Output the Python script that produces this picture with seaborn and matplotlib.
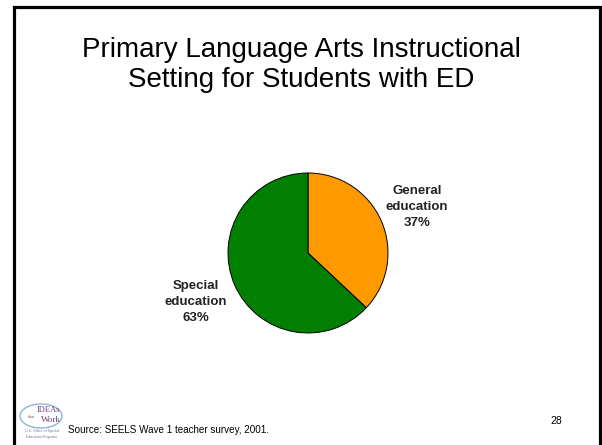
import matplotlib
matplotlib.use("Agg")
import matplotlib.pyplot as plt
from matplotlib.patches import Rectangle, Ellipse
import seaborn as sns

# Instructional setting shares (percent)
settings = ["General\neducation", "Special\neducation"]
shares = [37, 63]
colors = ["#FF9900", "#007F00"]

title = "Primary Language Arts Instructional\nSetting for Students with ED"
source = "Source: SEELS Wave 1 teacher survey, 2001."
page_number = "28"

sns.set_theme(style="white")
plt.rcParams["font.family"] = ["Liberation Sans", "DejaVu Sans"]

W, H = 602, 445
fig = plt.figure(figsize=(W / 100, H / 100), dpi=100)
fig.patch.set_facecolor("white")

# slide frame
fig.add_artist(Rectangle((13.5 / W, -0.05), (600 - 13.5) / W, 1.05 - 6.5 / H,
                         transform=fig.transFigure, fill=False,
                         edgecolor="black", linewidth=2.3))

fig.text(0.5, 1 - 65 / H, title, ha="center", va="center",
         fontsize=20, linespacing=1.18, color="black")

# pie axes: centre (308, 253) px, radius 80 px
cx, cy, r = 308, 253, 80
ax = fig.add_axes([(cx - r) / W, (H - cy - r) / H, 2 * r / W, 2 * r / H])
wedges, _ = ax.pie(shares, colors=colors, startangle=90, counterclock=False,
                   radius=1.0, wedgeprops=dict(edgecolor="black", linewidth=0.7))
ax.set_xlim(-1, 1)
ax.set_ylim(-1, 1)
ax.set_aspect("equal")
ax.axis("off")

label_pos = [(1.36, 0.57), (-1.40, -0.61)]
for name, val, (lx, ly) in zip(settings, shares, label_pos):
    ax.text(lx, ly, f"{name}\n{val}%", ha="center", va="center",
            fontsize=9.5, fontweight="bold", linespacing=1.45,
            color="#222222", clip_on=False)

# footer
fig.text(68 / W, 1 - 430 / H, source, ha="left", va="center",
         fontsize=7.1, color="black")
fig.text(556 / W, 1 - 421 / H, page_number, ha="center", va="center",
         fontsize=7.5, color="black")

# small programme logo
fig.add_artist(Ellipse((41 / W, 1 - 416 / H), 42 / W, 24 / H,
                       transform=fig.transFigure, fill=False,
                       edgecolor="#8FB3D9", linewidth=1.0))
fig.text(48 / W, 1 - 410 / H, "IDEAs", ha="center", va="center",
         fontsize=6, family="Liberation Serif", color="#6B3F7F")
fig.text(31 / W, 1 - 417 / H, "that", ha="center", va="center",
         fontsize=3, family="Liberation Serif", color="#555555")
fig.text(51 / W, 1 - 420 / H, "Work", ha="center", va="center",
         fontsize=6.5, family="Liberation Serif", color="#6B3F7F")
fig.text(42 / W, 1 - 434 / H, "U.S. Office of Special\nEducation Programs",
         ha="center", va="center", fontsize=2.8, linespacing=1.6,
         family="Liberation Serif", color="#667788")

fig.savefig("out.png", dpi=100, facecolor="white")
